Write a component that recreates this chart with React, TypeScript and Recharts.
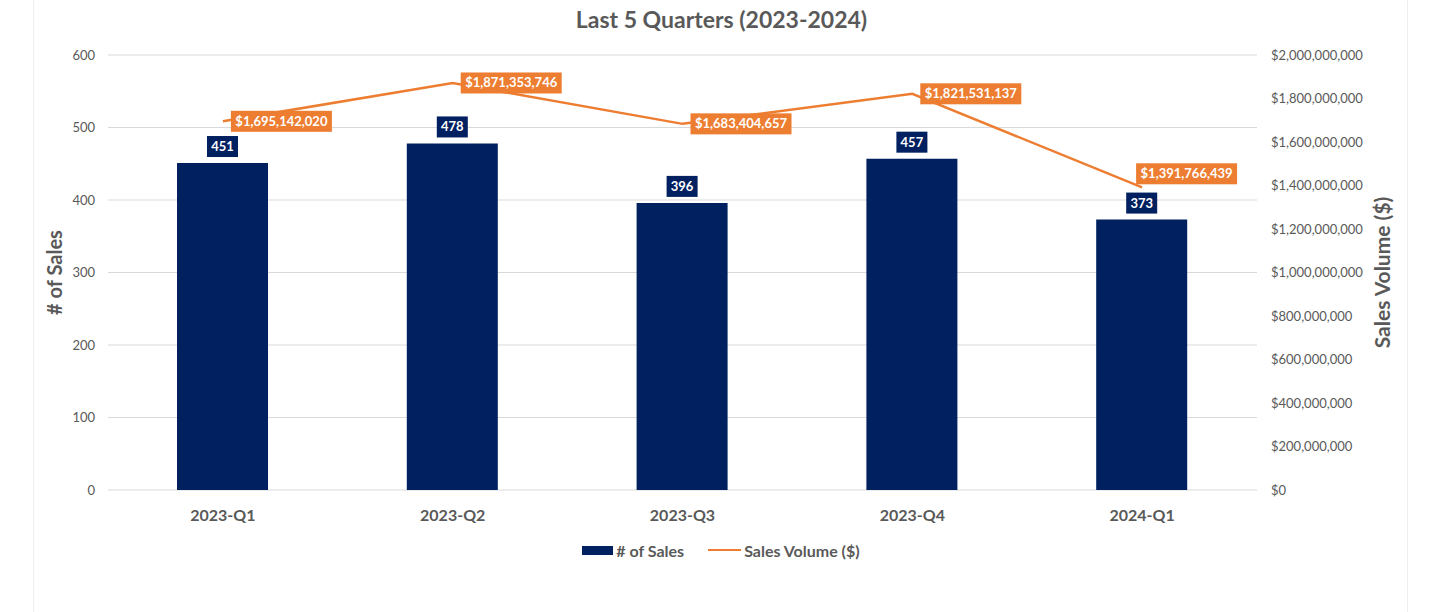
import { ComposedChart, Bar, Line, XAxis, YAxis, CartesianGrid, Legend, LabelList } from "recharts";

const quarters = ["2023-Q1", "2023-Q2", "2023-Q3", "2023-Q4", "2024-Q1"];
const salesCount = [451, 478, 396, 457, 373];
const salesVolume = [1695142020, 1871353746, 1683404657, 1821531137, 1391766439];
const leftTicks = [0, 100, 200, 300, 400, 500, 600];
const rightTicks = [0, 2e8, 4e8, 6e8, 8e8, 1e9, 1.2e9, 1.4e9, 1.6e9, 1.8e9, 2e9];

const NAVY = "#002060";
const ORANGE = "#ED7D31";
const GRAY = "#595959";
const FONT = "Lato, 'Open Sans', sans-serif";

const data = quarters.map((q, i) => ({ quarter: q, count: salesCount[i], volume: salesVolume[i] }));

const money = (v: number) => "$" + v.toLocaleString("en-US");

function BarTag(props: any) {
  const { x, y, width, value } = props;
  const w = 31;
  const h = 21;
  const cx = x + width / 2;
  return (
    <g>
      <rect x={cx - w / 2} y={y - h - 6} width={w} height={h} fill={NAVY} />
      <text x={cx} y={y - 6 - h / 2} dy={4.5} textAnchor="middle" fill="#fff" fontSize={13} fontWeight={700} fontFamily={FONT}>
        {value}
      </text>
    </g>
  );
}

function LineTag(props: any) {
  const { x, y, value, index } = props;
  const w = 101;
  const h = 21;
  let bx = x + 8;
  let by = y - h / 2;
  if (index === salesVolume.length - 1) {
    bx = x - 6;
    by = y - h - 3;
  }
  return (
    <g>
      <rect x={bx} y={by} width={w} height={h} fill={ORANGE} />
      <text x={bx + w / 2} y={by + h / 2} dy={4.5} textAnchor="middle" fill="#fff" fontSize={13} fontWeight={700} fontFamily={FONT}>
        {money(value)}
      </text>
    </g>
  );
}

function LegendBox() {
  return (
    <div style={{ display: "flex", justifyContent: "center", alignItems: "center", height: 24, paddingLeft: 42, fontFamily: FONT, fontSize: 16, fontWeight: 700, color: GRAY }}>
      <span style={{ display: "inline-block", width: 31, height: 9, background: NAVY, marginRight: 3 }} />
      <span style={{ marginRight: 24 }}># of Sales</span>
      <span style={{ display: "inline-block", width: 33, height: 2, background: ORANGE, marginRight: 3 }} />
      <span>Sales Volume ($)</span>
    </div>
  );
}

export default function App() {
  return (
    <div style={{ position: "absolute", left: 0, top: 0, width: 1443, height: 612, background: "#fff", fontFamily: FONT }}>
      <div style={{ position: "absolute", left: 33, top: 0, width: 1375, height: 612, borderLeft: "1px solid #eeeeee", borderRight: "1px solid #eeeeee", boxSizing: "border-box" }} />
      <div style={{ position: "absolute", left: 0, top: 5, width: 1443, textAlign: "center", fontSize: 23, fontWeight: 700, color: GRAY }}>
        Last 5 Quarters (2023-2024)
      </div>
      <div style={{ position: "absolute", left: 0, top: 0 }}>
        <ComposedChart width={1443} height={612} data={data} margin={{ top: 55, right: 76, bottom: 50, left: 33 }} barCategoryGap="30%">
          <CartesianGrid yAxisId="left" vertical={false} stroke="#d9d9d9" />
          <XAxis dataKey="quarter" axisLine={false} tickLine={false} height={48} tickMargin={14} tick={{ fill: GRAY, fontSize: 16, fontWeight: 700, fontFamily: FONT }} />
          <YAxis
            yAxisId="left"
            domain={[0, 600]}
            ticks={leftTicks}
            width={75}
            axisLine={false}
            tickLine={false}
            tick={{ fill: GRAY, fontSize: 13, fontFamily: FONT }}
            tickMargin={7}
            label={{ value: "# of Sales", angle: -90, position: "insideLeft", offset: 22, style: { fill: GRAY, fontSize: 20, fontWeight: 700, fontFamily: FONT, textAnchor: "middle" } }}
          />
          <YAxis
            yAxisId="right"
            orientation="right"
            domain={[0, 2e9]}
            ticks={rightTicks}
            width={110}
            axisLine={false}
            tickLine={false}
            tickFormatter={money}
            tick={{ fill: GRAY, fontSize: 13, fontFamily: FONT }}
            tickMargin={8}
            label={{ value: "Sales Volume ($)", angle: -90, position: "insideRight", offset: -16, style: { fill: GRAY, fontSize: 21, fontWeight: 700, fontFamily: FONT, textAnchor: "middle" } }}
          />
          <Legend verticalAlign="bottom" content={() => <LegendBox />} />
          <Bar yAxisId="left" dataKey="count" name="# of Sales" fill={NAVY} barSize={91} isAnimationActive={false}>
            <LabelList dataKey="count" content={<BarTag />} />
          </Bar>
          <Line yAxisId="right" type="linear" dataKey="volume" name="Sales Volume ($)" stroke={ORANGE} strokeWidth={2.5} dot={false} isAnimationActive={false}>
            <LabelList dataKey="volume" content={<LineTag />} />
          </Line>
        </ComposedChart>
      </div>
    </div>
  );
}
